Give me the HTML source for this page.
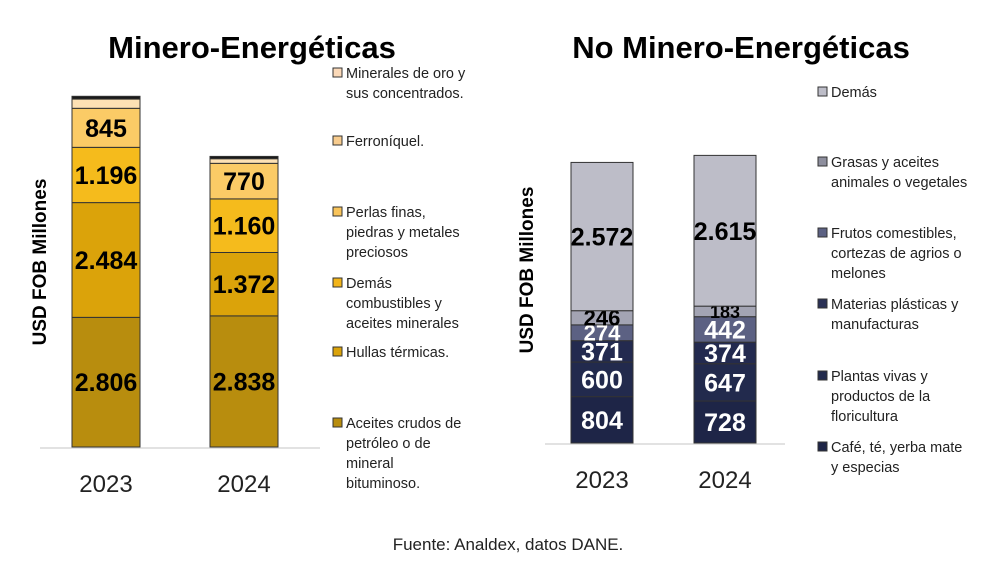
<!DOCTYPE html>
<html><head><meta charset="utf-8"><style>
body{margin:0;background:#fff;}
svg{display:block;font-family:"Liberation Sans",sans-serif;}
</style></head><body>
<svg id="c" width="1004" height="569"></svg>
<script>
const years=["2023","2024"];
const minSeries=["Aceites crudos","Hullas","Demás combustibles","Perlas","Ferroníquel","Minerales de oro"];
const min2023=[2806,2484,1196,845,200,60];
const min2024=[2838,1372,1160,770,100,50];
const minLabels2023=["2.806","2.484","1.196","845","",""];
const minLabels2024=["2.838","1.372","1.160","770","",""];
const minColors=["#b88d0e","#dba30a","#f5bb1c","#fbcb66","#fde1b4","#1a1a1a"];
const noSeries=["Café","Plantas","Materias plásticas","Frutos","Grasas","Demás"];
const no2023=[804,600,371,274,246,2572];
const no2024=[728,647,374,442,183,2615];
const noLabels2023=["804","600","371","274","246","2.572"];
const noLabels2024=["728","647","374","442","183","2.615"];
const noColors=["#1e2547","#222a4d","#232a4f","#5c6183","#a3a4b3","#bdbdc8"];
const noText=["#fff","#fff","#fff","#fff","#000","#000"];
const minLegend=[["Minerales de oro y","sus concentrados."],["Ferroníquel."],["Perlas finas,","piedras y metales","preciosos"],["Demás","combustibles y","aceites minerales"],["Hullas térmicas."],["Aceites crudos de","petróleo o de","mineral","bituminoso."]];
const minLegendColors=["#fbd9b8","#f8cc8e","#f9c45a","#f2b419","#dba30a","#b88d0e"];
const noLegend=[["Demás"],["Grasas y aceites","animales o vegetales"],["Frutos comestibles,","cortezas de agrios o","melones"],["Materias plásticas y","manufacturas"],["Plantas vivas y","productos de la","floricultura"],["Café, té, yerba mate","y especias"]];
const noLegendColors=["#bdbdc8","#8e8f9e","#5c6183","#2a3055","#222a4d","#1e2547"];

const svg=document.getElementById('c');
const NS="http://www.w3.org/2000/svg";
function mk(t,a,p){const e=document.createElementNS(NS,t);for(const k in a)e.setAttribute(k,a[k]);(p||svg).appendChild(e);return e;}
function txt(s,a,p){const e=mk('text',a,p);e.textContent=s;return e;}

function drawChart(cfg){
  const y=v=>cfg.base-v*cfg.scale;
  mk('line',{x1:cfg.ax0,x2:cfg.ax1,y1:cfg.base+1,y2:cfg.base+1,stroke:"#d9d9d9","stroke-width":1.5});
  [cfg.d0,cfg.d1].forEach((vals,i)=>{
    const g=mk('g',{});
    
    
    let cum=0;const x=cfg.xs[i];const labs=i?cfg.l1:cfg.l0;
    vals.forEach((v,j)=>{
      const y0=y(cum),y1=y(cum+v);cum+=v;
      const r=mk('rect',{x:x,y:y1,width:cfg.bw,height:y0-y1,fill:cfg.colors[j],stroke:"#333","stroke-width":1},g);
      
      
      if(labs[j]){
        const h=y0-y1;
        const fs=h<13?18:(h<20?22:25);
        const t=txt(labs[j],{x:x+cfg.bw/2,y:(y0+y1)/2+fs*0.36,"text-anchor":"middle","font-size":fs,"font-weight":"bold",fill:cfg.tc?cfg.tc[j]:"#000"},g);
        
        
      }
    });
    const t=txt(years[i],{x:x+cfg.bw/2,y:cfg.base+45,"text-anchor":"middle","font-size":24,fill:"#222"});
    
    
  });
  const tt=txt(cfg.title,{x:cfg.tx,y:58,"text-anchor":"middle","font-size":31,"font-weight":"bold",fill:"#000"});
  
  
  const yt=txt("USD FOB Millones",{x:0,y:0,"text-anchor":"middle","font-size":19,"font-weight":"bold",fill:"#000",transform:`translate(${cfg.ytx},${cfg.yty}) rotate(-90)`});
  
  
  cfg.legend.forEach((lines,k)=>{
    const g=mk('g',{});
    
    
    const ly=cfg.ly[k];
    mk('rect',{x:cfg.lx,y:ly-10,width:9,height:9,fill:cfg.lcol[k],stroke:"#333","stroke-width":1},g);
    lines.forEach((s,m)=>txt(s,{x:cfg.lx+13,y:ly+m*20,"font-size":14.5,fill:"#222"},g));
  });
}
drawChart({base:447,scale:0.0462,xs:[72,210],bw:68,d0:min2023,d1:min2024,l0:minLabels2023,l1:minLabels2024,colors:minColors,
  ax0:40,ax1:320,title:"Minero-Energéticas",tx:252,ytx:46,yty:262,legend:minLegend,lcol:minLegendColors,lx:333,ly:[78,146,217,288,357,428]});
drawChart({base:443,scale:0.05765,xs:[571,694],bw:62,d0:no2023,d1:no2024,l0:noLabels2023,l1:noLabels2024,colors:noColors,tc:noText,
  ax0:545,ax1:785,title:"No Minero-Energéticas",tx:741,ytx:533,yty:270,legend:noLegend,lcol:noLegendColors,lx:818,ly:[97,167,238,309,381,452]});
const f=txt("Fuente: Analdex, datos DANE.",{x:508,y:550,"text-anchor":"middle","font-size":17,fill:"#222"});


</script>
</body></html>
